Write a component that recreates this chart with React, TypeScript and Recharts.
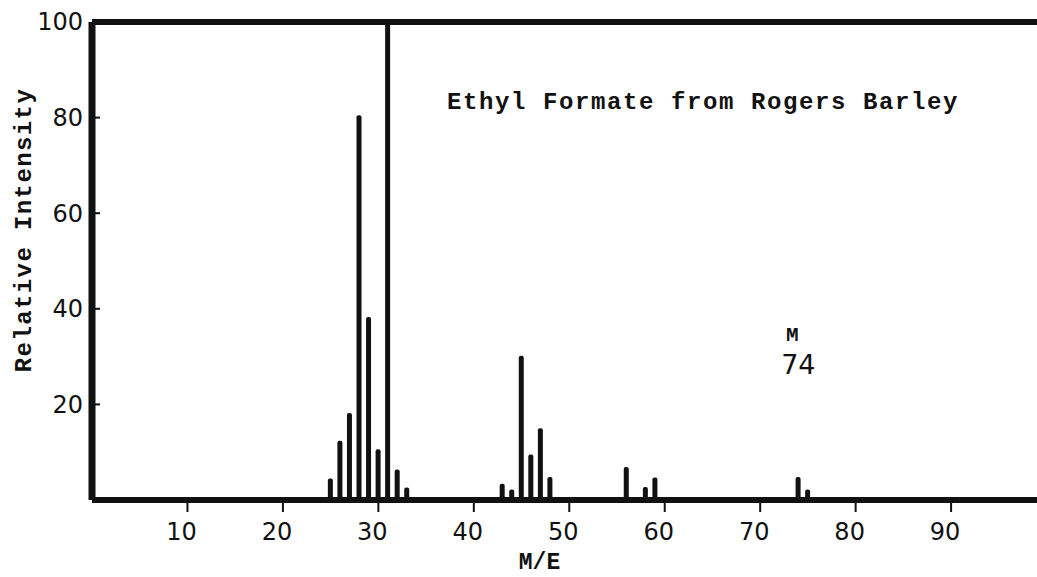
import { Bar, BarChart, Label, ReferenceDot, ReferenceLine, XAxis, YAxis } from 'recharts'

const massValues = [25, 26, 27, 28, 29, 30, 31, 32, 33, 43, 44, 45, 46, 47, 48, 56, 58, 59, 74, 75]
const intensityValues = [4.5, 12.4, 18.2, 80.5, 38.3, 10.6, 100, 6.4, 2.6, 3.4, 2.2, 30.2, 9.5, 15, 4.8, 6.9, 2.7, 4.7, 4.8, 2.2]
const xTicks = [10, 20, 30, 40, 50, 60, 70, 80, 90]
const yTicks = [20, 40, 60, 80, 100]

const INK = '#111'
const MONO = '"Liberation Mono", "DejaVu Sans Mono", monospace'
const LETTER = '"DejaVu Sans", sans-serif'

const rows = massValues.map((m, i) => ({ m, value: intensityValues[i] }))

function YTick(props: any) {
  const { x, y, payload } = props
  return (
    <g>
      {payload.value !== 100 && (
        <line x1={x + 12} x2={x + 17} y1={y} y2={y} stroke={INK} strokeWidth={2} />
      )}
      <text x={x} y={y} dy="0.35em" textAnchor="end" fontFamily={LETTER} fontSize={24} fill={INK}>
        {payload.value}
      </text>
    </g>
  )
}

// "M" over "74" marking the molecular ion peak
function MolecularIon(props: any) {
  const { viewBox } = props
  const cx = viewBox.x + viewBox.width / 2
  const cy = viewBox.y + viewBox.height / 2
  return (
    <g>
      <text x={cx - 6} y={cy - 11} textAnchor="middle" fontFamily={MONO} fontWeight={700} fontSize={21} fill={INK}>
        M
      </text>
      <text x={cx} y={cy + 22} textAnchor="middle" fontFamily={LETTER} fontSize={27} fill={INK}>
        74
      </text>
    </g>
  )
}

export default function App() {
  return (
    <div style={{ position: 'absolute', left: 0, top: 0, width: 1037, height: 577, background: '#fff' }}>
      <BarChart
        width={1037}
        height={577}
        data={rows}
        margin={{ top: 22, right: 0, left: 0, bottom: 0 }}
      >
        <XAxis
          dataKey="m"
          type="number"
          domain={[0, 99]}
          ticks={xTicks}
          allowDataOverflow
          height={77}
          axisLine={{ stroke: INK, strokeWidth: 6 }}
          tickLine={{ stroke: INK, strokeWidth: 2 }}
          tickSize={12}
          tickMargin={11}
          tick={{ fontFamily: LETTER, fontSize: 24, fill: INK, dx: -6 }}
        >
          <Label
            value="M/E"
            position="insideBottom"
            offset={8}
            dx={-25}
            style={{ fontFamily: MONO, fontWeight: 700, fontSize: 23, fill: INK }}
          />
        </XAxis>
        <YAxis
          type="number"
          domain={[0, 100]}
          ticks={yTicks}
          allowDataOverflow
          width={92}
          axisLine={{ stroke: INK, strokeWidth: 7 }}
          tickLine={false}
          tickSize={0}
          tickMargin={9}
          tick={<YTick />}
        >
          <Label
            value="Relative Intensity"
            angle={-90}
            position="insideLeft"
            offset={0}
            dx={22}
            dy={-31}
            style={{ fontFamily: MONO, fontWeight: 700, fontSize: 24, letterSpacing: 1.4, fill: INK, textAnchor: 'middle' }}
          />
        </YAxis>
        <ReferenceLine y={100} stroke={INK} strokeWidth={6} ifOverflow="visible" />
        <Bar dataKey="value" fill={INK} barSize={5} radius={[2, 2, 0, 0]} isAnimationActive={false} />
        <ReferenceDot x={74} y={31} r={0} fill="none" stroke="none" label={<MolecularIon />} />
      </BarChart>
      <div
        style={{
          position: 'absolute',
          left: 447,
          top: 88,
          fontFamily: MONO,
          fontWeight: 700,
          fontSize: 24,
          letterSpacing: 1.6,
          color: INK,
          whiteSpace: 'nowrap',
          lineHeight: '30px',
        }}
      >
        Ethyl Formate from Rogers Barley
      </div>
    </div>
  )
}
